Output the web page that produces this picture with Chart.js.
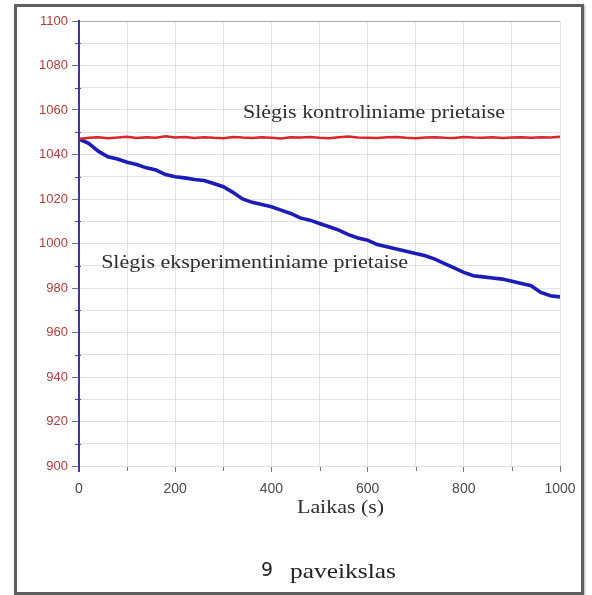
<!DOCTYPE html>
<html>
<head>
<meta charset="utf-8">
<script src="https://cdn.jsdelivr.net/npm/chart.js@4/dist/chart.umd.min.js"></script>
<style>
  html, body { margin: 0; padding: 0; background: #ffffff; }
  #wrap { position: relative; width: 592px; height: 595px; }
  #c { position: absolute; left: 0; top: 0; }
  #frame { position: absolute; left: 14px; top: 4px; width: 564px; height: 585px;
           border: 3px solid #5f5f5f; pointer-events: none;
           box-shadow: 1px 1px 2px rgba(0,0,0,0.3); }
</style>
</head>
<body>
<div id="wrap">
  <canvas id="c" width="592" height="595"></canvas>
  <div id="frame"></div>
</div>
<script>
// ---- data ----
const timeSeconds = [0,20,40,60,80,100,120,140,160,180,200,220,240,260,280,300,320,340,360,380,400,420,440,460,480,500,520,540,560,580,600,620,640,660,680,700,720,740,760,780,800,820,840,860,880,900,920,940,960,980,1000];
const controlPressure = [1047,1047.5,1047.8,1047.3,1047.6,1048,1047.4,1047.7,1047.5,1048.2,1047.6,1047.9,1047.4,1047.8,1047.5,1047.3,1047.9,1047.6,1047.4,1047.8,1047.5,1047.2,1047.7,1047.6,1047.9,1047.5,1047.3,1047.8,1048.1,1047.6,1047.5,1047.4,1047.7,1047.9,1047.5,1047.3,1047.6,1047.8,1047.5,1047.4,1047.9,1047.6,1047.5,1047.8,1047.4,1047.6,1047.7,1047.5,1047.8,1047.6,1048];
const experimentPressure = [1047,1045,1041.5,1039,1038,1036.5,1035.5,1034,1033,1031,1030,1029.5,1028.8,1028.3,1027,1025.5,1023,1020,1018.5,1017.5,1016.5,1015,1013.5,1011.5,1010.5,1009,1007.5,1006,1004,1002.5,1001.5,999.5,998.5,997.5,996.5,995.5,994.5,993,991,989,987,985.5,985,984.5,984,983,982,981,978,976.5,976];
const xTickLabels = [0,200,400,600,800,1000];
const yTickLabels = [900,920,940,960,980,1000,1020,1040,1060,1080,1100];
const seriesNames = ['Slėgis kontroliniame prietaise', 'Slėgis eksperimentiniame prietaise'];
const xTitle = 'Laikas (s)';
const captionNumber = '9';
const captionText = 'paveikslas';

const toPoints = (xs, ys) => xs.map((x, i) => ({ x: x, y: ys[i] }));

// draw text left-aligned at (x, y), horizontally stretched to a given width
function stretchedText(ctx, text, x, y, font, width) {
  ctx.save();
  ctx.font = font;
  const w = ctx.measureText(text).width;
  ctx.translate(x, y);
  ctx.scale(width / w, 1);
  ctx.textAlign = 'left';
  ctx.textBaseline = 'middle';
  ctx.fillText(text, 0, 0);
  ctx.restore();
}

const extras = {
  id: 'extras',
  afterDraw(chart) {
    const ctx = chart.ctx;
    const xs = chart.scales.x, ys = chart.scales.y;
    const area = chart.chartArea;
    ctx.save();
    // minor ticks on y axis (crossing axis)
    ctx.strokeStyle = '#4a4aa0';
    ctx.lineWidth = 1;
    for (let v = 910; v < 1100; v += 20) {
      const py = Math.round(ys.getPixelForValue(v)) + 0.5;
      ctx.beginPath(); ctx.moveTo(area.left - 4, py); ctx.lineTo(area.left + 2, py); ctx.stroke();
    }
    // minor ticks on x axis
    ctx.strokeStyle = '#777';
    for (let t = 100; t < 1000; t += 200) {
      const px = Math.round(xs.getPixelForValue(t)) + 0.5;
      ctx.beginPath(); ctx.moveTo(px, area.bottom + 1); ctx.lineTo(px, area.bottom + 5); ctx.stroke();
    }
    // axis line extension
    ctx.strokeStyle = '#3a3a9a';
    ctx.lineWidth = 2;
    ctx.beginPath(); ctx.moveTo(area.left, area.top); ctx.lineTo(area.left, area.bottom + 6); ctx.stroke();
    // annotations
    ctx.fillStyle = '#2e2e2e';
    const serif = '"Liberation Serif", "DejaVu Serif", serif';
    stretchedText(ctx, seriesNames[0], xs.getPixelForValue(341), ys.getPixelForValue(1058.6), '19px ' + serif, 262);
    stretchedText(ctx, seriesNames[1], xs.getPixelForValue(46), ys.getPixelForValue(991.2), '19px ' + serif, 307);
    // axis title
    stretchedText(ctx, xTitle, 297, 508, '19px ' + serif, 87);
    // caption
    ctx.fillStyle = '#222';
    stretchedText(ctx, captionNumber, 261, 571, '20px "DejaVu Sans", sans-serif', 12);
    stretchedText(ctx, captionText, 290, 572, '21px ' + serif, 106);
    ctx.restore();
  }
};

new Chart(document.getElementById('c'), {
  type: 'line',
  data: {
    datasets: [
      { label: seriesNames[0], data: toPoints(timeSeconds, controlPressure),
        borderColor: '#d9262b', borderWidth: 2.5, pointRadius: 0, tension: 0 },
      { label: seriesNames[1], data: toPoints(timeSeconds, experimentPressure),
        borderColor: '#1c1cb8', borderWidth: 3.6, pointRadius: 0, tension: 0 }
    ]
  },
  options: {
    responsive: false,
    animation: false,
    layout: { padding: { top: 21, right: 32, bottom: 0, left: 0 } },
    plugins: { legend: { display: false }, tooltip: { enabled: false } },
    scales: {
      x: {
        type: 'linear', min: 0, max: 1000,
        afterFit: s => { s.height = 129; },
        afterBuildTicks: s => { s.ticks = []; for (let v = 0; v <= 1000; v += 100) s.ticks.push({ value: v }); },
        ticks: {
          autoSkip: false, maxRotation: 0, padding: 9, color: '#4a4a4a',
          font: { family: '"Liberation Sans", Arial, sans-serif', size: 14 },
          callback: v => xTickLabels.includes(v) ? String(v) : ''
        },
        grid: {
          color: '#e2e2e2', lineWidth: 1, tickLength: 6,
          tickColor: c => (c.tick && xTickLabels.includes(c.tick.value)) ? '#777' : 'rgba(0,0,0,0)'
        },
        border: { display: false },
        title: { display: false }
      },
      y: {
        type: 'linear', min: 900, max: 1100,
        afterFit: s => { s.width = 79; },
        afterBuildTicks: s => { s.ticks = []; for (let v = 900; v <= 1100; v += 10) s.ticks.push({ value: v }); },
        ticks: {
          autoSkip: false, padding: 4, color: '#b03c3c',
          font: { family: '"Liberation Sans", Arial, sans-serif', size: 13 },
          callback: v => yTickLabels.includes(v) ? String(v) : ''
        },
        grid: {
          color: c => (c.tick && c.tick.value === 1100) ? '#a8a8a8' : '#e2e2e2',
          lineWidth: 1, tickLength: 7,
          tickColor: c => (c.tick && yTickLabels.includes(c.tick.value)) ? '#777' : 'rgba(0,0,0,0)'
        },
        border: { display: true, color: '#3a3a9a', width: 2 }
      }
    }
  },
  plugins: [extras]
});
</script>
</body>
</html>
